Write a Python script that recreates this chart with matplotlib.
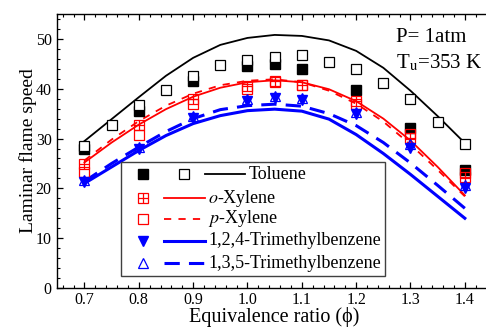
import matplotlib
matplotlib.use("Agg")
import matplotlib.pyplot as plt
from matplotlib.ticker import MultipleLocator, FormatStrFormatter
from matplotlib.patches import Rectangle

plt.rcParams["font.family"] = ["Liberation Serif", "DejaVu Serif"]
plt.rcParams["mathtext.fontset"] = "stix"

# measured points
phi_tol_open = [0.70, 0.75, 0.80, 0.85, 0.90, 0.95, 1.00, 1.05, 1.10, 1.15, 1.20, 1.25, 1.30, 1.35, 1.40]
tol_open = [28.6, 32.7, 36.7, 39.7, 42.5, 44.7, 45.7, 46.3, 46.7, 45.3, 43.9, 41.1, 37.9, 33.3, 28.9]

phi_pts = [0.70, 0.80, 0.90, 1.00, 1.05, 1.10, 1.20, 1.30, 1.40]
tol_filled = [27.9, 35.5, 41.5, 44.5, 44.9, 43.9, 39.7, 32.1, 23.6]
oxy = [24.9, 32.7, 37.9, 40.5, 41.5, 40.7, 37.5, 30.1, 22.2]
pxy = [23.2, 30.7, 36.9, 39.9, 41.3, 40.7, 36.9, 30.9, 23.0]
tmb124 = [21.2, 27.9, 34.1, 37.5, 38.1, 37.7, 34.9, 28.1, 20.0]
tmb135 = [21.6, 28.3, 34.5, 37.9, 38.5, 38.1, 35.3, 28.9, 20.6]

# simulations
phi_sim = [0.70, 0.75, 0.80, 0.85, 0.90, 0.95, 1.00, 1.05, 1.10, 1.15, 1.20, 1.25, 1.30, 1.35, 1.40]
tol_sim = [29.5, 33.9, 38.3, 42.6, 46.2, 48.8, 50.2, 50.8, 50.6, 49.7, 47.6, 44.2, 39.6, 34.5, 29.1]
oxy_sim = [25.2, 29.2, 32.8, 35.9, 38.4, 40.2, 41.3, 41.7, 41.3, 39.9, 37.5, 34.0, 29.6, 24.3, 18.6]
pxy_sim = [25.6, 29.8, 33.5, 36.6, 39.0, 40.7, 41.6, 41.9, 41.3, 39.6, 37.0, 33.4, 28.8, 23.7, 18.4]
tmb124_sim = [21.0, 24.3, 27.6, 30.6, 33.0, 34.6, 35.6, 35.9, 35.5, 33.9, 30.8, 27.0, 22.8, 18.4, 14.0]
tmb135_sim = [21.4, 25.0, 28.3, 31.4, 34.0, 35.8, 36.6, 36.9, 36.5, 35.0, 32.6, 29.2, 25.1, 20.6, 16.0]

labels = ["Toluene", "$\\it{o}$-Xylene", "$\\it{p}$-Xylene",
          "1,2,4-Trimethylbenzene", "1,3,5-Trimethylbenzene"]

RED = "#ff0000"
BLUE = "#0000ff"
ms = 6.5

fig = plt.figure(figsize=(4.86, 3.29), dpi=100)
ax = fig.add_axes([57.3 / 486, 41 / 329, 434.7 / 486, 274 / 329])

# simulation curves
ax.plot(phi_sim, tol_sim, color="black", lw=1.3)
ax.plot(phi_sim, oxy_sim, color=RED, lw=1.3)
ax.plot(phi_sim, pxy_sim, color=RED, lw=1.3, dashes=(4, 4))
ax.plot(phi_sim, tmb124_sim, color=BLUE, lw=2.2)
ax.plot(phi_sim, tmb135_sim, color=BLUE, lw=2.2, dashes=(5, 3))

# experiments
ax.plot(phi_pts, tol_filled, "s", color="black", ms=ms, mec="black")
ax.plot(phi_tol_open, tol_open, "s", ms=ms, mfc="white", mec="black", mew=0.9)
ax.plot(phi_pts, oxy, "s", ms=ms, mfc="none", mec=RED, mew=0.9)
ax.plot(phi_pts, oxy, "+", ms=ms, color=RED, mew=0.9)
ax.plot(phi_pts, pxy, "s", ms=ms, mfc="none", mec=RED, mew=0.9)
ax.plot(phi_pts, tmb124, "v", ms=ms + 1, color=BLUE, mec=BLUE)
ax.plot(phi_pts, tmb135, "^", ms=ms + 1, mfc="none", mec=BLUE, mew=0.9)

ax.set_xlim(0.65, 1.45)
ax.set_ylim(0, 55)
ax.xaxis.set_major_locator(MultipleLocator(0.1))
ax.xaxis.set_minor_locator(MultipleLocator(0.02))
ax.xaxis.set_major_formatter(FormatStrFormatter("%.1f"))
ax.yaxis.set_major_locator(MultipleLocator(10))
ax.yaxis.set_minor_locator(MultipleLocator(2))
ax.tick_params(which="both", direction="in", top=True, right=True, labelsize=11.5)
ax.tick_params(which="major", length=4.5, width=0.9)
ax.tick_params(which="minor", length=2.3, width=0.8)
ax.tick_params(axis="x", pad=3)
ax.tick_params(axis="y", pad=4)
for s in ax.spines.values():
    s.set_linewidth(1.0)

ax.set_xlabel("Equivalence ratio (ϕ)", fontsize=14.5, labelpad=-1)
ax.set_ylabel("Laminar flame speed", fontsize=14, labelpad=-1)

ax.text(0.779, 0.915, "P= 1atm", transform=ax.transAxes, fontsize=15, va="center")
ax.text(0.779, 0.82, "T$_\\mathrm{u}$=353 K", transform=ax.transAxes, fontsize=15, va="center")

# legend drawn by hand (Toluene row has two marker columns)
T = ax.transAxes
ax.add_patch(Rectangle((0.1465, 0.044), 0.6075, 0.416, transform=T, fc="white",
                       ec="#404040", lw=1.0, zorder=5))
rows = [0.416, 0.328, 0.252, 0.172, 0.091]
kw = dict(transform=T, zorder=6, clip_on=False)
# Toluene
ax.plot([0.197], [rows[0]], "s", color="black", ms=ms, **kw)
ax.plot([0.291], [rows[0]], "s", ms=ms, mfc="white", mec="black", mew=0.9, **kw)
ax.plot([0.340, 0.432], [rows[0]] * 2, color="black", lw=1.3, **kw)
ax.text(0.441, rows[0], labels[0], fontsize=13, va="center", transform=T, zorder=6)
# others
ax.plot([0.197], [rows[1]], "s", ms=ms, mfc="none", mec=RED, mew=0.9, **kw)
ax.plot([0.197], [rows[1]], "+", ms=ms, color=RED, mew=0.9, **kw)
ax.plot([0.197], [rows[2]], "s", ms=ms, mfc="none", mec=RED, mew=0.9, **kw)
ax.plot([0.197], [rows[3]], "v", ms=ms + 1, color=BLUE, **kw)
ax.plot([0.197], [rows[4]], "^", ms=ms + 1, mfc="none", mec=BLUE, mew=0.9, **kw)
ax.plot([0.245, 0.340], [rows[1]] * 2, color=RED, lw=1.3, **kw)
ax.plot([0.245, 0.340], [rows[2]] * 2, color=RED, lw=1.3, dashes=(4, 4), **kw)
ax.plot([0.245, 0.340], [rows[3]] * 2, color=BLUE, lw=2.2, **kw)
ax.plot([0.245, 0.340], [rows[4]] * 2, color=BLUE, lw=2.2, dashes=(5, 3), **kw)
for r, lab in zip(rows[1:], labels[1:]):
    ax.text(0.347, r, lab, fontsize=13, va="center", transform=T, zorder=6)

fig.savefig("out.png", dpi=100)
